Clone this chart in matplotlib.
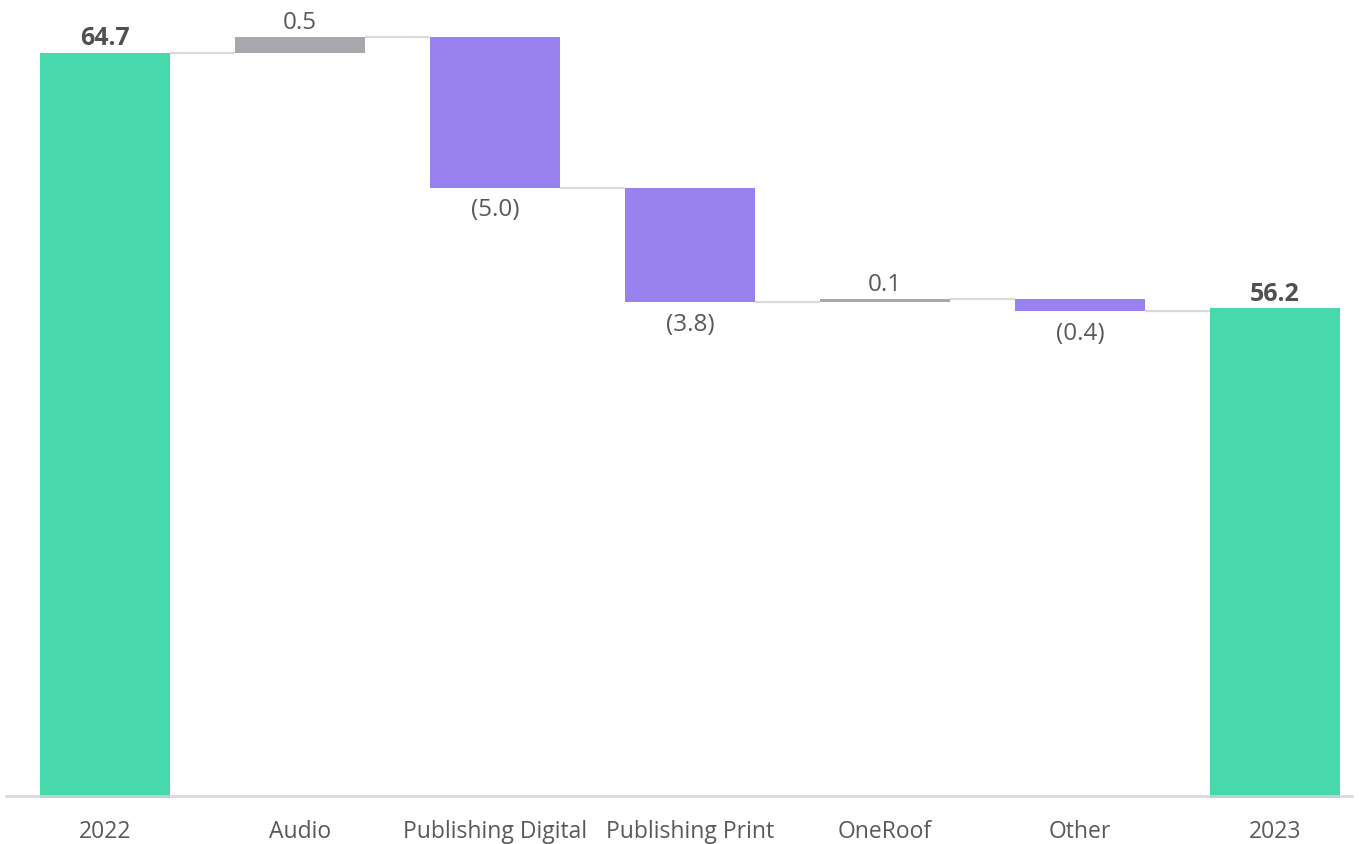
import matplotlib
matplotlib.use("Agg")
import matplotlib.pyplot as plt

categories = ["2022", "Audio", "Publishing Digital", "Publishing Print", "OneRoof", "Other", "2023"]
values = [64.7, 0.5, -5.0, -3.8, 0.1, -0.4, 56.2]
is_total = [True, False, False, False, False, False, True]

GREEN = "#47D8AC"
PURPLE = "#9981EF"
GREY = "#A7A8AB"
TEXT = "#595959"

plt.rcParams["font.family"] = ["Open Sans", "DejaVu Sans"]

W, H = 1359, 844
fig = plt.figure(figsize=(W / 100, H / 100), dpi=100)
ax = fig.add_axes([6 / W, 48 / H, 1346 / W, 796 / H])
ymin = 40.0
ax.set_xlim((6 - 105) / 195, (1352 - 105) / 195)
ax.set_ylim(ymin, ymin + 796 / 30.1)

width = 0.667
running = 0.0
levels = []
for i, (v, tot) in enumerate(zip(values, is_total)):
    if tot:
        bottom, top = ymin - 0.07, v
        running = v
        ax.bar(i, top - bottom, bottom=bottom, width=width, color=GREEN, zorder=2, clip_on=False)
        ax.annotate(f"{v:.1f}", (i, v), xytext=(0, 1), textcoords="offset points",
                    ha="center", va="bottom", fontsize=18, fontweight="bold", color="#505050")
        end = v
    else:
        start = running
        end = running + v
        lo, hi = min(start, end), max(start, end)
        color = GREY if v > 0 else PURPLE
        ax.bar(i, hi - lo, bottom=lo, width=width, color=color, zorder=2)
        if v > 0:
            ax.annotate(f"{v:.1f}", (i, hi), xytext=(0, 1.5), textcoords="offset points",
                        ha="center", va="bottom", fontsize=17.5, color=TEXT)
        else:
            ax.annotate(f"({abs(v):.1f})", (i, lo), xytext=(0, -7.5), textcoords="offset points",
                        ha="center", va="top", fontsize=17.5, color=TEXT)
        running = end
    levels.append(end)

for i in range(len(values) - 1):
    ax.plot([i + width / 2, i + 1 - width / 2], [levels[i], levels[i]],
            color="#DADADA", lw=1.6, zorder=1, solid_capstyle="butt")

for s in ["top", "right", "left"]:
    ax.spines[s].set_visible(False)
ax.spines["bottom"].set_color("#D4D4D4")
ax.spines["bottom"].set_linewidth(2.0)
ax.spines["bottom"].set_alpha(0.85)
ax.spines["bottom"].set_zorder(3)
ax.set_yticks([])
ax.set_xticks(range(len(categories)))
ax.set_xticklabels(categories, fontsize=16.5, color=TEXT)
ax.tick_params(axis="x", length=0, pad=17)

fig.savefig("out.png", dpi=100)
